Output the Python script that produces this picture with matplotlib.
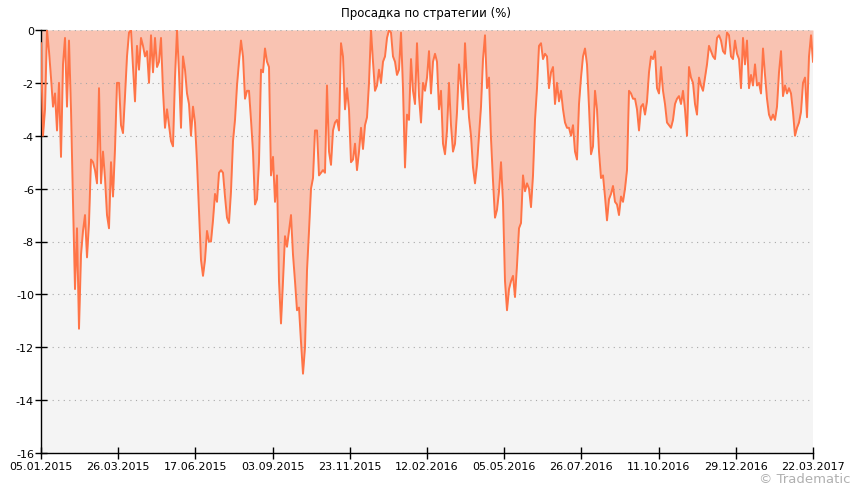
import numpy as np
import matplotlib
matplotlib.use("Agg")
import matplotlib.pyplot as plt

# drawdown values (%), evenly spaced trading days from 05.01.2015 to 22.03.2017
drawdown = [
    # 05.01.2015 ..
    -0.5, -4.0, -3.0, 0.0, -0.8, -1.8, -2.9, -2.4, -3.8, -2.0,
    -4.8, -1.3, -0.3, -2.9, -0.4, -3.0, -6.5, -9.8, -7.5, -11.3,
    -8.5, -7.6, -7.0, -8.6, -7.3, -4.9, -5.0, -5.3, -5.8, -2.2,
    -5.8, -4.6, -5.6, -7.0, -7.5, -5.0, -6.3, -4.5, -2.0, -2.0,
    -3.6, -3.9, -2.5, -1.0, -0.1, 0.0, -1.4, -2.7, -0.6, -1.5,
    -0.3, -0.6, -1.0, -0.8, -2.0,
    # segment 2
    -0.2, -1.6, -0.3, -1.4, -1.2, -0.3, -2.3, -3.7, -3.0, -3.6,
    -4.2, -4.4, -1.8, 0.0, -1.6, -3.7, -1.0, -1.5, -2.4, -2.8,
    -4.0, -2.9, -3.5, -5.0, -6.8, -8.7, -9.3, -8.7, -7.6, -8.0,
    -8.0, -7.2, -6.2, -6.5, -5.4, -5.3, -5.4, -6.3, -7.1, -7.3,
    -6.1, -4.2, -3.4, -2.1, -1.2, -0.4, -1.0, -2.6, -2.3, -2.3,
    -3.4, -4.6, -6.6, -6.4, -5.0,
    # segment 3
    -1.5, -1.6, -0.7, -1.2, -1.4, -5.5, -4.8, -6.5, -5.5, -9.5,
    -11.1, -9.5, -7.8, -8.2, -7.6, -7.0, -8.5, -9.5, -10.6, -10.5,
    -11.8, -13.0, -12.0, -9.1, -7.6, -6.0, -5.6, -3.8, -3.8, -5.5,
    -5.4, -5.3, -5.4, -2.1, -4.6, -5.1, -3.8, -3.5, -3.4, -3.8,
    -0.5, -1.0, -3.0, -2.2, -3.0, -5.0, -4.9, -4.3, -5.3, -4.6,
    -3.7, -4.5, -3.6, -3.3,
    # segment 4
    -2.0, 0.0, -1.2, -2.3, -2.1, -1.5, -2.0, -1.2, -1.0, -0.3,
    0.0, -0.1, -1.0, -1.2, -1.7, -1.5, -0.1, -2.2, -5.2, -3.2,
    -3.4, -1.1, -2.3, -2.8, -0.5, -2.5, -3.5, -2.0, -2.3, -1.8,
    -0.8, -2.4, -1.2, -0.9, -1.2, -3.0, -2.3, -4.3, -4.7, -3.8,
    -2.0, -3.6, -4.6, -4.3, -3.1, -1.3, -2.1, -3.0, -0.5, -2.0,
    -3.3, -4.0, -5.2, -5.8, -5.1, -4.0,
    # segment 5
    -2.9, -1.1, -0.2, -2.2, -1.8, -4.1, -5.7, -7.1, -6.8, -6.1,
    -5.0, -6.5, -9.5, -10.6, -9.8, -9.5, -9.3, -10.1, -8.9, -7.5,
    -7.3, -5.5, -6.1, -5.8, -6.0, -6.7, -5.5, -3.4, -2.2, -0.6,
    -0.5, -1.1, -0.9, -1.0, -2.2, -1.6, -1.4, -2.8, -2.0, -2.7,
    -2.3, -3.0, -3.5, -3.7, -3.7, -4.0, -3.6, -4.6, -4.9, -2.8,
    -1.8, -1.0, -0.7, -1.3, -2.9,
    # segment 6
    -4.7, -4.4, -2.3, -3.0, -4.6, -5.6, -5.5, -6.3, -7.2, -6.4,
    -6.2, -5.9, -6.5, -6.6, -7.0, -6.3, -6.5, -6.0, -5.3, -2.3,
    -2.4, -2.6, -2.6, -3.0, -3.8, -2.9, -2.8, -3.2, -2.7, -1.6,
    -1.0, -1.1, -0.8, -2.2, -2.4, -1.4, -2.3, -2.8, -3.5, -3.6,
    -3.7, -3.4, -2.8, -2.6, -2.5, -2.8, -2.3, -3.0, -4.0, -1.4,
    -1.8, -2.0, -2.8, -3.2, -1.8,
    # segment 7 .. 22.03.2017
    -2.1, -2.3, -1.8, -1.3, -0.6, -0.8, -1.0, -1.1, -0.3, -0.2,
    -0.4, -0.8, -0.9, -0.1, -0.2, -1.0, -1.1, -0.4, -0.9, -1.1,
    -2.2, -0.3, -1.3, -0.4, -2.2, -1.7, -2.1, -1.3, -2.1, -2.0,
    -2.4, -0.7, -1.7, -2.6, -3.2, -3.4, -3.2, -3.4, -2.9, -1.6,
    -0.8, -2.5, -2.1, -2.4, -2.2, -2.4, -3.1, -4.0, -3.7, -3.5,
    -3.1, -2.0, -1.8, -3.3, -1.0, -0.2, -1.2,
]

date_labels = [
    "05.01.2015", "26.03.2015", "17.06.2015", "03.09.2015", "23.11.2015",
    "12.02.2016", "05.05.2016", "26.07.2016", "11.10.2016", "29.12.2016",
    "22.03.2017",
]

y_ticks = [0, -2, -4, -6, -8, -10, -12, -14, -16]

title = "Просадка по стратегии (%)"

line_color = "#FF7447"
fill_color = "#F9C3B2"

W, H = 853, 489
fig = plt.figure(figsize=(W / 100, H / 100), dpi=100)
ax = fig.add_axes([41 / W, 1 - 454 / H, (813 - 41) / W, (454 - 31) / H])
ax.set_facecolor("#F4F4F4")

x = np.arange(len(drawdown))
ax.fill_between(x, drawdown, 0, color=fill_color, linewidth=0, zorder=1)
ax.plot(x, drawdown, color=line_color, linewidth=1.4, zorder=3)

ax.set_xlim(0, len(drawdown) - 1)
ax.set_ylim(-16, 0)
ax.set_yticks(y_ticks)
ax.set_yticklabels([str(v) for v in y_ticks])
ax.set_xticks(np.linspace(0, len(drawdown) - 1, len(date_labels)))
ax.set_xticklabels(date_labels)

ax.set_axisbelow(False)
ax.yaxis.grid(True, linestyle=(0, (1, 4)), color="#A8A8A8", linewidth=0.8)
for s in ("top", "right"):
    ax.spines[s].set_visible(False)
for s in ("left", "bottom"):
    ax.spines[s].set_color("black")
    ax.spines[s].set_linewidth(1.0)
ax.tick_params(axis="both", direction="inout", length=8, width=1.0,
               labelsize=8, colors="black", pad=2)
ax.tick_params(axis="y", pad=1)

fig.text(0.5, 1 - 14 / H, title, ha="center", va="center", fontsize=8.5)
fig.text(851 / W, 1 - 480 / H, "© Tradematic", ha="right", va="center",
         fontsize=9.5, color="#B0B0B0")

fig.savefig("out.png", dpi=100)
plt.close(fig)
